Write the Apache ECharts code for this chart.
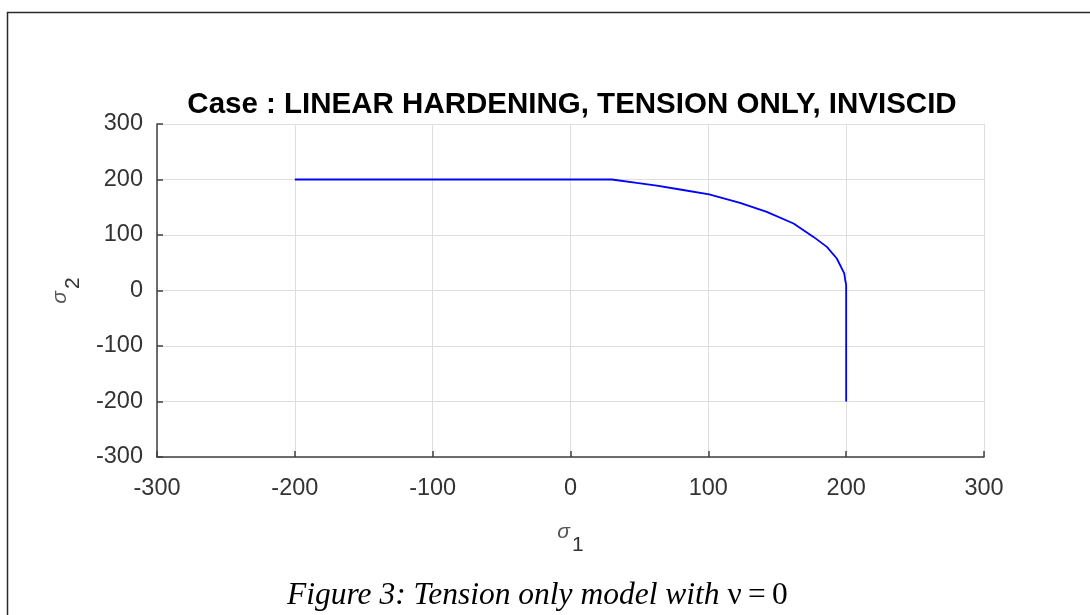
<!DOCTYPE html>
<html>
<head>
<meta charset="utf-8">
<script src="https://cdn.jsdelivr.net/npm/echarts@6/dist/echarts.min.js"></script>
<style>
html,body{margin:0;padding:0;background:#fff;}
#chart{width:1090px;height:615px;}
</style>
</head>
<body>
<div id="chart"></div>
<script>
// Data
var sigma1 = [-200, 30, 48, 62.6, 79.5, 100.6, 123, 142.4, 161.8, 176.3, 186, 193.2, 198.6, 199.3, 200, 200];
var sigma2 = [200, 200, 193.9, 189, 182, 173, 158, 141.6, 120.7, 96.6, 78.6, 57.7, 30.7, 19, 10, -200];
var xTicks = [-300, -200, -100, 0, 100, 200, 300];
var yTicks = [-300, -200, -100, 0, 100, 200, 300];
var titleText = 'Case : LINEAR HARDENING, TENSION ONLY, INVISCID';
var captionItalic = 'Figure 3: Tension only model with ';
var captionUpright = '\u03bd\u2009=\u20090';

var points = sigma1.map(function (x, i) { return [x, sigma2[i]]; });

var chart = echarts.init(document.getElementById('chart'), null, {renderer: 'canvas'});
var tickFont = 'Liberation Sans, Arial, sans-serif';
var serifFont = 'Liberation Serif, Times New Roman, serif';
var axisCommon = {
  type: 'value',
  min: xTicks[0],
  max: xTicks[xTicks.length - 1],
  interval: 100,
  axisLine: {show: true, onZero: false, lineStyle: {color: '#404040', width: 1.5}},
  axisTick: {show: true, inside: true, length: 6, lineStyle: {color: '#404040', width: 1.5}},
  splitLine: {show: true, lineStyle: {color: '#dedede', width: 1}},
  axisLabel: {color: '#333', fontSize: 23.5, fontFamily: tickFont}
};
var nameRich = {
  s: {fontSize: 21, fontStyle: 'italic', color: '#555', fontFamily: tickFont, verticalAlign: 'top', lineHeight: 34},
  sub: {fontSize: 21, color: '#333', fontFamily: tickFont, verticalAlign: 'bottom', lineHeight: 34, padding: [12, 0, 0, 2]}
};
chart.setOption({
  animation: false,
  backgroundColor: '#fff',
  title: {
    text: titleText,
    left: 567, textAlign: 'center',
    top: 85,
    textStyle: {fontFamily: tickFont, fontWeight: 'bold', fontSize: 29.5, color: '#000'}
  },
  grid: {left: 157, right: 106, top: 124, bottom: 158, containLabel: false},
  xAxis: Object.assign({}, axisCommon, {
    axisLabel: Object.assign({}, axisCommon.axisLabel, {margin: 20}),
    name: '{s|\u03c3}{sub|1}',
    nameLocation: 'middle',
    nameGap: 65,
    nameTextStyle: {rich: nameRich}
  }),
  yAxis: Object.assign({}, axisCommon, {
    min: yTicks[0], max: yTicks[yTicks.length - 1],
    axisLabel: Object.assign({}, axisCommon.axisLabel, {margin: 14}),
    name: '{s|\u03c3}{sub|2}',
    nameLocation: 'middle',
    nameGap: 73,
    nameRotate: 90,
    nameTextStyle: {rich: nameRich}
  }),
  series: [{
    type: 'line',
    data: points,
    showSymbol: false,
    smooth: false,
    lineStyle: {color: '#0000ff', width: 1.8},
    itemStyle: {color: '#0000ff'}
  }],
  graphic: [
    {
      type: 'polyline',
      shape: {points: [[7.5, 615], [7.5, 12.5], [1090, 12.5]]},
      style: {stroke: '#2a2a2a', lineWidth: 1.5, fill: null}
    },
    {
      type: 'text',
      left: 287, top: 580,
      style: {
        text: '{i|' + captionItalic + '}{u|' + captionUpright + '}',
        rich: {
          i: {fontFamily: serifFont, fontStyle: 'italic', fontSize: 31.5, fill: '#000'},
          u: {fontFamily: serifFont, fontSize: 31.5, fill: '#000'}
        }
      }
    }
  ]
});
</script>
</body>
</html>
